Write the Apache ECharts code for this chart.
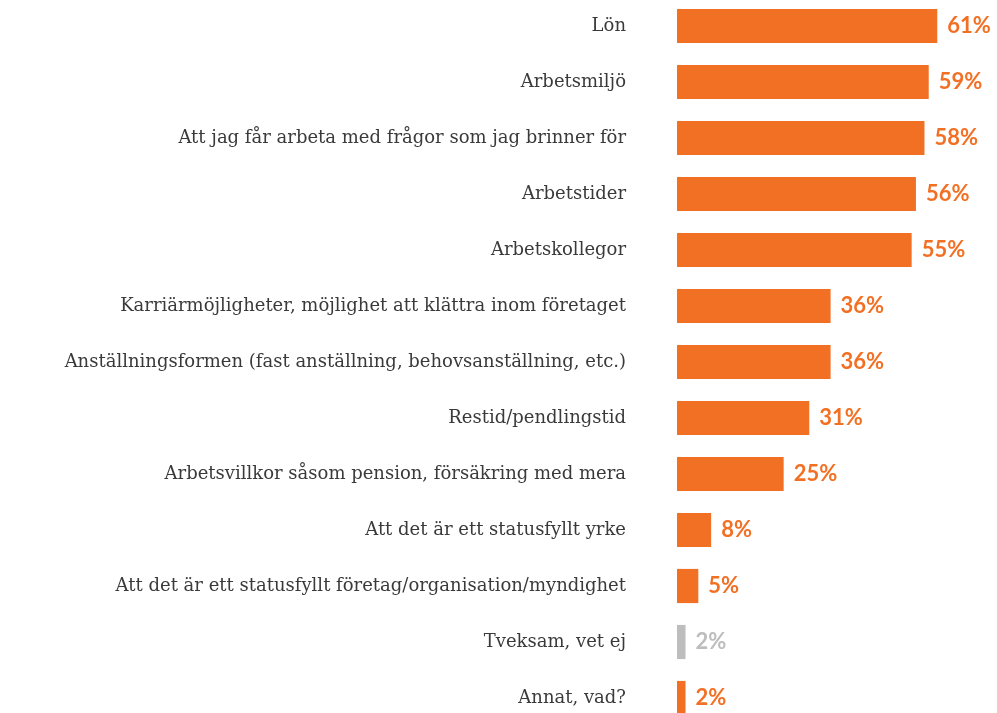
<!DOCTYPE html>
<html>
<head>
<meta charset="utf-8">
<script src="https://cdn.jsdelivr.net/npm/echarts@6/dist/echarts.min.js"></script>
<style>
  html, body { margin: 0; padding: 0; background: #fff; }
  #chart { width: 997px; height: 713px; }
</style>
</head>
<body>
<div id="chart"></div>
<script>
// kategorier, uppifrån och ned
const categories = [
  "Lön",
  "Arbetsmiljö",
  "Att jag får arbeta med frågor som jag brinner för",
  "Arbetstider",
  "Arbetskollegor",
  "Karriärmöjligheter, möjlighet att klättra inom företaget",
  "Anställningsformen (fast anställning, behovsanställning, etc.)",
  "Restid/pendlingstid",
  "Arbetsvillkor såsom pension, försäkring med mera",
  "Att det är ett statusfyllt yrke",
  "Att det är ett statusfyllt företag/organisation/myndighet",
  "Tveksam, vet ej",
  "Annat, vad?"
];
const values = [61, 59, 58, 56, 55, 36, 36, 31, 25, 8, 5, 2, 2];
const greyCategories = ["Tveksam, vet ej"];

const orange = "#F27024";
const grey = "#BDBDBD";

const chart = echarts.init(document.getElementById("chart"));

const data = values.map((v, i) => {
  const c = greyCategories.includes(categories[i]) ? grey : orange;
  return {
    value: v,
    itemStyle: { color: c },
    label: { color: c }
  };
});

chart.setOption({
  animation: false,
  grid: {
    left: 677,
    right: 0,
    top: -2,
    height: 728,
    outerBoundsMode: "none"
  },
  xAxis: {
    type: "value",
    min: 0,
    max: 75,
    show: false
  },
  yAxis: {
    type: "category",
    inverse: true,
    data: categories,
    axisLine: { show: false },
    axisTick: { show: false },
    splitLine: { show: false },
    axisLabel: {
      margin: 51,
      color: "#3a3a3a",
      fontFamily: "DejaVu Serif",
      fontSize: 18
    }
  },
  series: [
    {
      type: "bar",
      data: data,
      barCategoryGap: "39%",
      label: {
        show: true,
        position: "right",
        distance: 10,
        formatter: "{c}%",
        fontFamily: "Lato",
        fontWeight: "bold",
        fontSize: 22
      }
    }
  ]
});
</script>
</body>
</html>
